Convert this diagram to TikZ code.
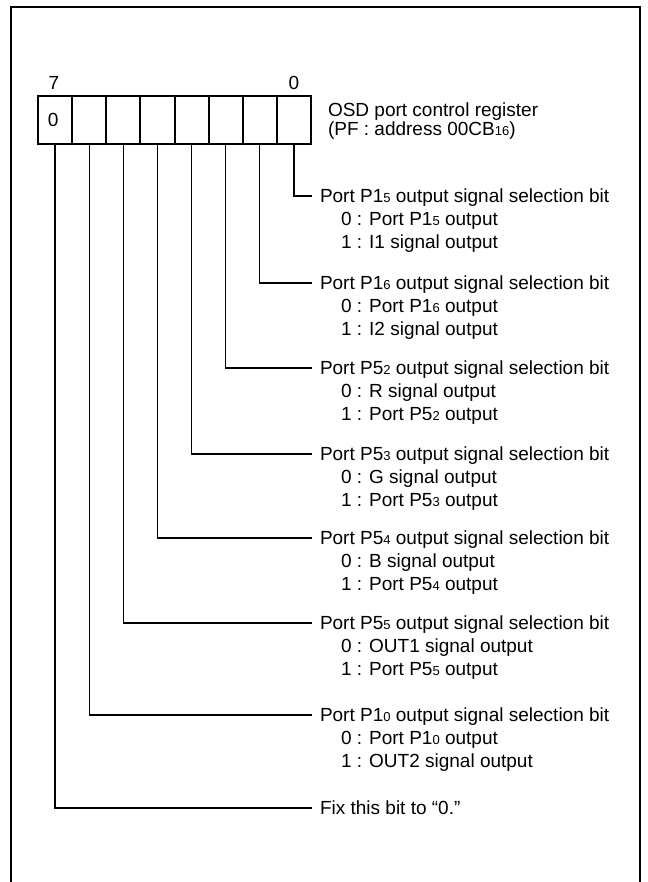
\documentclass[tikz,border=0pt]{standalone}
\usepackage{fontspec}
\setmainfont{Liberation Sans}
\newcommand\sbx[1]{{\fontsize{13}{13}\selectfont #1}}
\begin{document}
\begin{tikzpicture}[x=1pt,y=-1pt,
  every node/.style={font=\fontsize{19}{22}\selectfont, inner sep=0pt, outer sep=0pt},
  cell/.style={draw, line width=2pt, minimum width=34.125pt, minimum height=48pt, outer sep=1pt},
  conn/.style={line width=1.3pt},
  frame/.style={line width=2.6pt},
  title/.style={anchor=base west, inner xsep=8pt},
  sub/.style={anchor=base west}]
\useasboundingbox (0,0) rectangle (647,882);
\draw[frame] (11,882) -- (11,7) -- (640,7) -- (640,882);

% register cells
\foreach \i in {0,...,7}
  \node[cell] (c\i) at ({38+(7-\i)*34.125+17.0625},120) {};
\node (v7) at ([xshift=-2pt]c7.center) {0};
\node (b7) at (54,83) {7};
\node (b0) at (294,83) {0};
\node[anchor=base west] (reg) at (328,117) {OSD port control register};
\node[anchor=base west] (addr) at (328,136) {(PF : address 00CB\sbx{16})};

\newcommand\bitrow[5]{%
  \node[title] (t#1) at (312,{#2+6.8}) {#3};
  \coordinate (e#1) at ([yshift=6.8pt]t#1.base west);
  \draw[conn] (c#1.south) |- (e#1);
  \node[sub] (s#1a) at ([xshift=29pt,yshift=-23pt]t#1.base west) {#4};
  \node[sub] (s#1b) at ([xshift=29pt,yshift=-45.5pt]t#1.base west) {#5};
}
\bitrow{0}{196}{Port P1\sbx{5} output signal selection bit}{0 : Port P1\sbx{5} output}{1 : I1 signal output}
\bitrow{1}{283}{Port P1\sbx{6} output signal selection bit}{0 : Port P1\sbx{6} output}{1 : I2 signal output}
\bitrow{2}{368}{Port P5\sbx{2} output signal selection bit}{0 : R signal output}{1 : Port P5\sbx{2} output}
\bitrow{3}{454}{Port P5\sbx{3} output signal selection bit}{0 : G signal output}{1 : Port P5\sbx{3} output}
\bitrow{4}{538}{Port P5\sbx{4} output signal selection bit}{0 : B signal output}{1 : Port P5\sbx{4} output}
\bitrow{5}{623}{Port P5\sbx{5} output signal selection bit}{0 : OUT1 signal output}{1 : Port P5\sbx{5} output}
\bitrow{6}{715}{Port P1\sbx{0} output signal selection bit}{0 : Port P1\sbx{0} output}{1 : OUT2 signal output}

\node[title] (t7) at (312,{808+6.8}) {Fix this bit to “0.”};
\coordinate (e7) at ([yshift=6.8pt]t7.base west);
\draw[conn] (c7.south) |- (e7);
\end{tikzpicture}
\end{document}
